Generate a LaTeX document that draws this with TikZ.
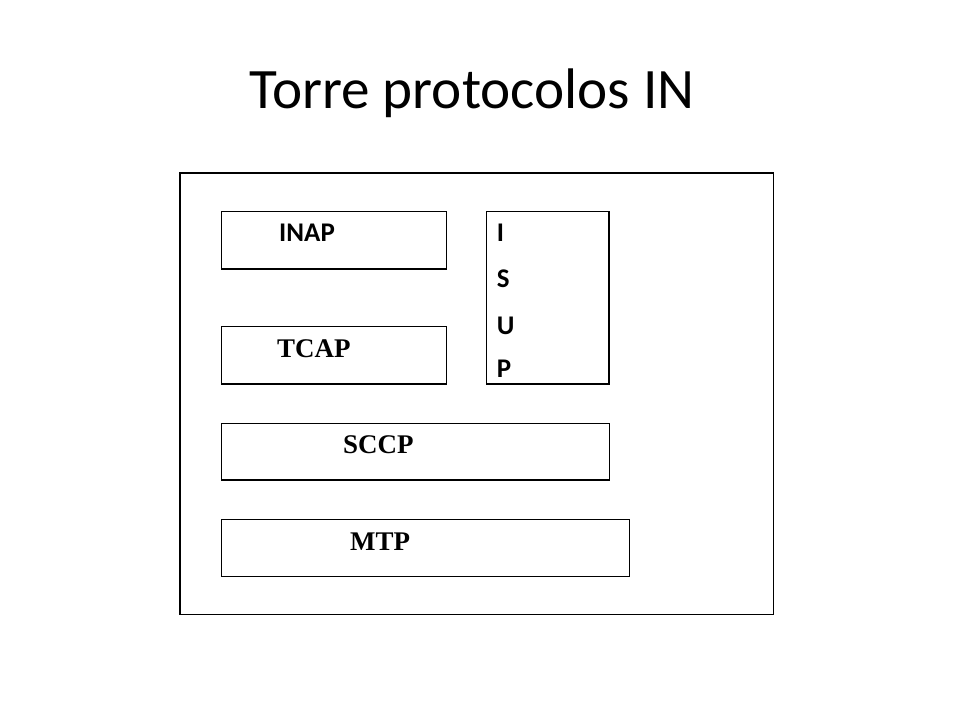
\documentclass[tikz,border=0pt]{standalone}
\usepackage{fontspec}
\setmainfont{Carlito}
\newfontfamily\tmsfont{Liberation Serif}
\usetikzlibrary{positioning}

\begin{document}
\begin{tikzpicture}[x=0.03cm, y=-0.03cm,
    layer/.style={draw, line width=1.1pt, inner sep=0pt},
    sanslabel/.style={inner sep=0pt, anchor=base west, font=\fontsize{23}{27}\selectfont\bfseries},
    seriflabel/.style={inner sep=0pt, anchor=base west, font=\fontsize{23}{27}\selectfont\tmsfont\bfseries}]
      \useasboundingbox (0, 0) rectangle (960, 720);

      \node (title) at (472, 108.3) [anchor=base, inner sep=0pt, font=\fontsize{48.8}{58}\selectfont] {Torre protocolos IN};

      \node (tower) at (476.75, 393.75) [layer, minimum width=17.8cm, minimum height=13.25cm] {};

      \node (inapbox) at (334.2, 240.35) [layer, minimum width=6.75cm, minimum height=1.72cm] {};
      \node (isupbox) at (547.85, 297.85) [layer, minimum width=3.67cm, minimum height=5.17cm] {};
      \node (tcapbox) at (334.2, 355.35) [layer, minimum width=6.75cm, minimum height=1.72cm] {};
      \node (sccpbox) at (415.5, 451.65) [layer, minimum width=11.63cm, minimum height=1.7cm] {};
      \node (mtpbox) at (425.5, 548) [layer, minimum width=12.23cm, minimum height=1.72cm] {};

      \node (inap) at (279, 241.7) [sanslabel] {INAP};
      \node (tcap) at (277, 357.7) [seriflabel] {TCAP};
      \node (sccp) at (343, 453.3) [seriflabel] {SCCP};
      \node (mtp) at (350, 550.7) [seriflabel] {MTP};

      \node (isupI) at (496.7, 241.7) [sanslabel] {I};
      \node (isupS) at (496.7, 287) [sanslabel] {S};
      \node (isupU) at (496.7, 334) [sanslabel] {U};
      \node (isupP) at (496.7, 377) [sanslabel] {P};
    \end{tikzpicture}
\end{document}
